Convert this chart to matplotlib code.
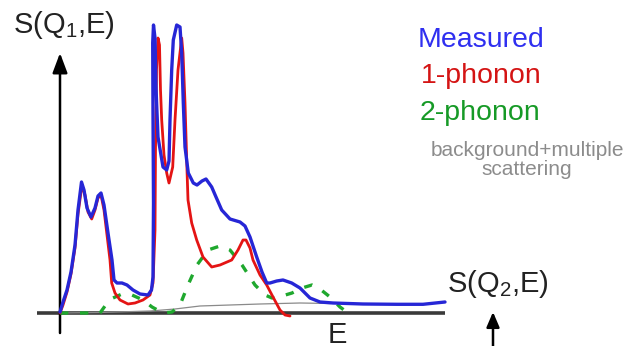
import numpy as np
import matplotlib
matplotlib.use("Agg")
import matplotlib.pyplot as plt

plt.rcParams['font.family'] = ['Liberation Sans', 'DejaVu Sans']
plt.rcParams['mathtext.fontset'] = 'custom'
plt.rcParams['mathtext.rm'] = 'Liberation Sans'
plt.rcParams['mathtext.it'] = 'Liberation Sans'
plt.rcParams['mathtext.default'] = 'regular'

## Data (E : energy, S : intensity, arbitrary units)

E_meas = [0, 3, 7, 11, 15, 18, 21.5, 24, 27, 31, 35, 38, 41, 44, 48, 52, 54, 57, 62, 67, 73, 80, 88,
          91.5, 93, 93.5, 93, 92.7, 93.5, 95, 96, 98, 103, 106.7, 109, 110, 111.7, 113.3, 116.7, 120,
          121.7, 123.3, 125, 128.3, 133.3, 137, 142, 146, 151.7, 156, 161.7, 170, 180, 185, 190, 196.7,
          202, 206.7, 210, 216.7, 223, 231.7, 240, 250, 260, 273, 303, 337, 363, 385]
S_meas = [1, 11, 23, 41, 68, 103, 131, 123, 105, 96, 105, 117, 120, 108, 80, 53, 33, 30, 30, 28, 23, 19, 18,
          23, 36, 110, 200, 270, 288, 275, 225, 176, 146, 143, 152, 193, 243, 273, 288, 286,
          260, 210, 166, 140, 130, 128, 132, 134, 126, 116, 103, 94, 91, 87, 76, 56,
          41, 30, 30, 32, 33, 30, 25, 15, 11, 10, 9, 8.7, 8.7, 11]

E_one = [0, 3, 7, 11, 15, 18, 22, 25, 28, 31.7, 35, 38, 41, 44, 47, 50, 51.7, 55, 60, 68, 75, 83, 90,
         93, 95, 95.5, 96.5, 98, 99.5, 100.5, 101.7, 104, 106.7, 109, 112.7, 115, 118, 121.7, 123, 125,
         127, 128, 131.7, 136.7, 143, 151.7, 160, 171.7, 178, 183, 186, 190, 193, 200, 206.7, 213,
         220, 225, 230]
S_one = [0, 8, 21, 39, 65, 99, 128, 118, 101, 94, 103, 115, 118, 103, 78, 53, 30, 20, 13, 9, 10, 13, 18,
         30, 83, 163, 243, 275, 268, 223, 193, 158, 140, 130, 146, 193, 243, 275, 260, 210,
         143, 113, 90, 73, 56, 46, 48, 53, 63, 73, 73, 65, 53, 38, 28, 16,
         3, -2, -3]

E_two = [0, 40, 45, 53, 62, 72, 83, 92, 103, 112, 120, 128, 137, 148, 160, 170, 182, 195, 205, 212,
         222, 232, 242, 252, 260, 270, 280, 288]
S_two = [0, 0, 7, 15, 19, 18, 13, 6, 0, 1, 8, 28, 48, 63, 67, 63, 48, 28, 18, 15,
         17, 20, 25, 28, 24, 16, 6, 0]

E_bg = [0, 40, 90, 115, 140, 170, 200, 240, 270]
S_bg = [0, 0.5, 2, 4, 7, 8, 9, 10, 9.5]

## Plot

fig = plt.figure(figsize=(6.3, 3.46), dpi=100)
ax = fig.add_axes([0, 0, 1, 1])
ax.set_xlim(-60, 570)
ax.set_ylim(-33, 313)
ax.axis('off')

# axes of the sketch
ax.plot([-23, 385], [0, 0], color='#3a3a3a', lw=2.6, solid_capstyle='butt', zorder=1)
ax.annotate('', xy=(0, 260), xytext=(0, -20),
            arrowprops=dict(arrowstyle='-|>,head_length=0.8,head_width=0.3', color='black',
                            lw=1.8, mutation_scale=15, shrinkA=0, shrinkB=0))
ax.annotate('', xy=(433, 1), xytext=(433, -35),
            arrowprops=dict(arrowstyle='-|>,head_length=0.7,head_width=0.3', color='black',
                            lw=1.8, mutation_scale=13, shrinkA=0, shrinkB=0))

ax.plot(E_bg, S_bg, color='#8a8a8a', lw=0.9, zorder=2)
ax.plot(E_two, S_two, color='#1fa82e', lw=2.4, ls=(0, (2.5, 3.5)), zorder=3)
ax.plot(E_one, S_one, color='#e41414', lw=2.0, solid_joinstyle='round', solid_capstyle='round', zorder=4)
ax.plot(E_meas, S_meas, color='#2626d6', lw=2.4, solid_joinstyle='round', solid_capstyle='round', zorder=5)

# labels
ax.text(4, 280, 'S(Q$_1$,E)', fontsize=21, color='#222222', ha='center', va='baseline')
ax.text(438, 21, 'S(Q$_2$,E)', fontsize=21, color='#222222', ha='center', va='baseline')
ax.text(277, -30, 'E', fontsize=21, color='#222222', ha='center', va='baseline')

ax.text(358, 266, 'Measured', fontsize=20.5, color='#2f2ff0', ha='left', va='baseline')
ax.text(361, 230, '1-phonon', fontsize=20.5, color='#d41414', ha='left', va='baseline')
ax.text(360, 193, '2-phonon', fontsize=20.5, color='#169a26', ha='left', va='baseline')
ax.text(467, 157, 'background+multiple', fontsize=15, color='#8c8c8c', ha='center', va='baseline')
ax.text(467, 138, 'scattering', fontsize=15, color='#8c8c8c', ha='center', va='baseline')

fig.savefig('out.png', dpi=100)
